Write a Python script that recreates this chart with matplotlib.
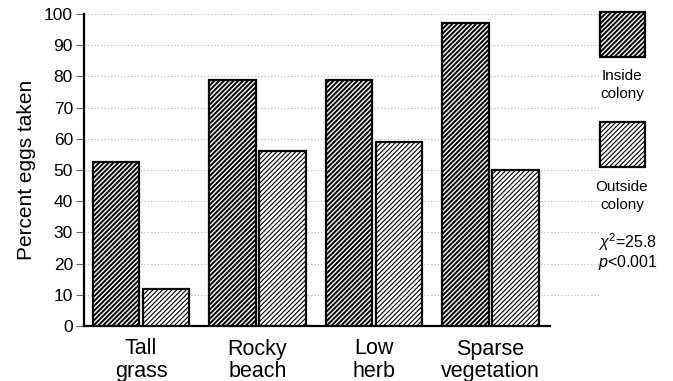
import matplotlib
matplotlib.use("Agg")
import matplotlib.pyplot as plt
import numpy as np
from matplotlib.patches import Rectangle

plt.rcParams['font.family'] = ['Liberation Sans', 'DejaVu Sans']
plt.rcParams['mathtext.fontset'] = 'custom'
plt.rcParams['mathtext.rm'] = 'Liberation Sans'
plt.rcParams['mathtext.it'] = 'Liberation Sans:italic'

habitats = ["Tall\ngrass", "Rocky\nbeach", "Low\nherb", "Sparse\nvegetation"]
inside_colony = [52.5, 79, 79, 97]
outside_colony = [12, 56, 59, 50]
yticks = [0, 10, 20, 30, 40, 50, 60, 70, 80, 90, 100]

HATCH = '///////'
DARK_LW = 1.4
LIGHT_LW = 0.8

fig = plt.figure(figsize=(6.73, 3.81), dpi=100)
ax = fig.add_axes([84 / 673, 55 / 381, 516 / 673, 312 / 381])

x = np.arange(len(habitats))
width = 0.40
offset = 0.215

# dark hatch for inside, lighter hatch for outside
with plt.rc_context({'hatch.linewidth': DARK_LW}):
    ax.bar(x - offset, inside_colony, width, facecolor='white',
           edgecolor='black', linewidth=1.6, hatch=HATCH, zorder=3)
with plt.rc_context({'hatch.linewidth': LIGHT_LW}):
    ax.bar(x + offset, outside_colony, width, facecolor='white',
           edgecolor='black', linewidth=1.6, hatch=HATCH, zorder=3)

ax.set_xlim(-0.489, 3.94)
ax.set_ylim(0, 100)
ax.set_yticks(yticks)
ax.set_xticks(x)
ax.set_xticklabels(habitats, fontsize=15.5, linespacing=1.12)
ax.tick_params(axis='x', length=0, pad=9)
ax.tick_params(axis='y', length=6, width=0.8, labelsize=12.5, pad=2,
               color='#666666')
ax.set_ylabel("Percent eggs taken", fontsize=15, labelpad=6)

ax.yaxis.grid(True, linestyle=(0, (1, 2)), color='#b8b8b8', linewidth=0.8,
              zorder=0)
ax.set_axisbelow(True)

for side in ['top', 'right']:
    ax.spines[side].set_visible(False)
ax.spines['left'].set_linewidth(1.6)
ax.spines['bottom'].set_linewidth(1.6)
ax.spines['bottom'].set_bounds(-0.489, 3.51)

# legend boxes on the right
with plt.rc_context({'hatch.linewidth': DARK_LW}):
    r1 = Rectangle((600 / 673, 1 - 57 / 381), 45 / 673, 45 / 381,
                   transform=fig.transFigure, facecolor='white',
                   edgecolor='black', linewidth=1.6, hatch=HATCH)
with plt.rc_context({'hatch.linewidth': LIGHT_LW}):
    r2 = Rectangle((600 / 673, 1 - 167 / 381), 45 / 673, 45 / 381,
                   transform=fig.transFigure, facecolor='white',
                   edgecolor='black', linewidth=1.6, hatch=HATCH)
fig.add_artist(r1)
fig.add_artist(r2)

fig.text(622 / 673, 1 - 85 / 381, "Inside\ncolony", ha='center', va='center',
         fontsize=11, linespacing=1.45)
fig.text(622 / 673, 1 - 196 / 381, "Outside\ncolony", ha='center',
         va='center', fontsize=11, linespacing=1.45)
fig.text(628 / 673, 1 - 242 / 381, "$\\chi^2$=25.8", ha='center',
         va='center', fontsize=11.5)
fig.text(628 / 673, 1 - 263 / 381, "$\\it{p}$<0.001", ha='center',
         va='center', fontsize=11.5)

fig.savefig("out.png", dpi=100)
